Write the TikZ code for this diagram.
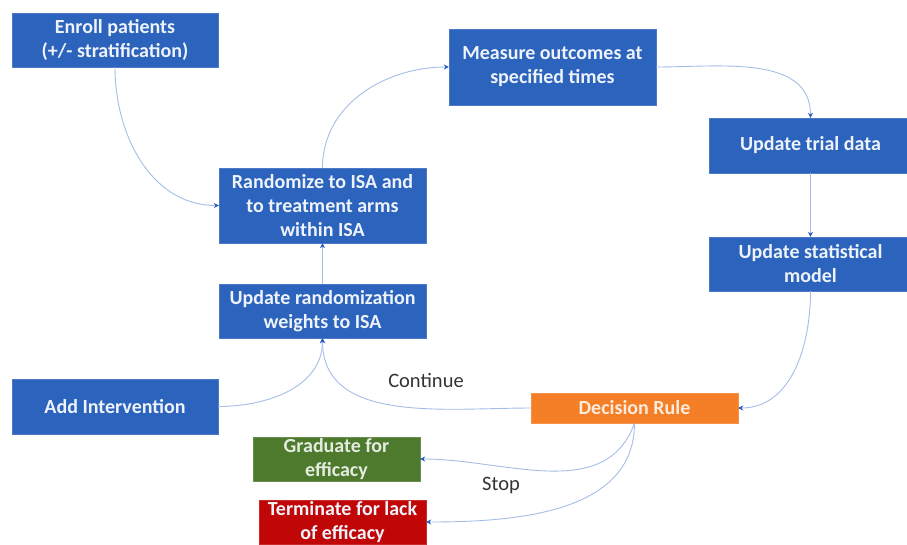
\documentclass[tikz,border=0pt]{standalone}
\usepackage{fontspec}
\setmainfont{Carlito}
\usetikzlibrary{arrows.meta}

\definecolor{boxblue}{RGB}{44,99,188}
\definecolor{ruleorange}{RGB}{244,127,38}
\definecolor{gradgreen}{RGB}{78,122,46}
\definecolor{termred}{RGB}{192,6,6}
\definecolor{lineblue}{RGB}{165,189,230}
\definecolor{tipblue}{RGB}{40,90,190}

\tikzset{
  box/.style={fill=boxblue, draw=boxblue!85!white, text=white!92!boxblue, align=center,
    inner sep=0pt, font=\fontsize{20}{24}\selectfont\bfseries},
  link/.style={draw=lineblue, line width=0.9pt,
    -{Stealth[length=5pt,width=5pt,color=tipblue]}},
  lbl/.style={text=black!80, font=\fontsize{20.5}{23}\selectfont},
}

\begin{document}
\begin{tikzpicture}[x=1pt, y=-1pt]
    \useasboundingbox (0,0) rectangle (907,544);
    \clip (0,0) rectangle (907,544);
    % boxes, placed by their centres (units of pixels)
    \node[box, minimum width=206, minimum height=54] (enroll) at (115,40) {Enroll patients\\(+/- stratification)};
    \node[box, minimum width=207, minimum height=76] (measure) at (552.5,67) {Measure outcomes at\\specified times};
    \node[box, minimum width=203, minimum height=55] (trial) at (810.5,145.5) {Update trial data};
    \node[box, minimum width=203, minimum height=54] (model) at (810.5,264) {Update statistical\\model};
    \node[box, minimum width=207, minimum height=75] (random) at (322.5,205.5) {Randomize to ISA and\\to treatment arms\\within ISA};
    \node[box, minimum width=207, minimum height=54] (weights) at (322.5,311) {Update randomization\\weights to ISA};
    \node[box, minimum width=206, minimum height=55] (addint) at (115,406.5) {Add Intervention};
    \node[box, fill=ruleorange, draw=ruleorange!85!white, text=white!85!ruleorange, minimum width=207, minimum height=30] (decide) at (634.5,408) {Decision Rule};
    \node[box, fill=gradgreen, draw=gradgreen!85!white, text=white!85!gradgreen, minimum width=167, minimum height=44] (grad) at (336.5,459) {Graduate for\\efficacy};
    \node[box, fill=termred, draw=termred!85!white, minimum width=167, minimum height=44] (term) at (342.5,522) {Terminate for lack\\of efficacy};
    % labels
    \node[lbl] (cont) at (426,380) {Continue};
    \node[lbl] (stop) at (501,485) {Stop};
    % connectors
    \draw[link] (enroll.south) to[out=-90, in=180] (random.west);
    \draw[link] (random.north) to[out=90, in=180] (measure.west);
    \draw[link] (measure.east) to[out=0, in=90] (trial.north);
    \draw[link] (trial) -- (model);
    \draw[link] (model.south) to[out=-90, in=0] (decide.east);
    \draw[link] (decide.west) to[out=180, in=-90] (weights.south);
    \draw[link] (addint.east) to[out=0, in=-90] (weights.south);
    \draw[link] (weights) -- (random);
    \draw[link] (decide.south) to[out=-110, in=0] (grad.east);
    \draw[link] (decide.south) to[out=-90, in=0] (term.east);
\end{tikzpicture}
\end{document}
